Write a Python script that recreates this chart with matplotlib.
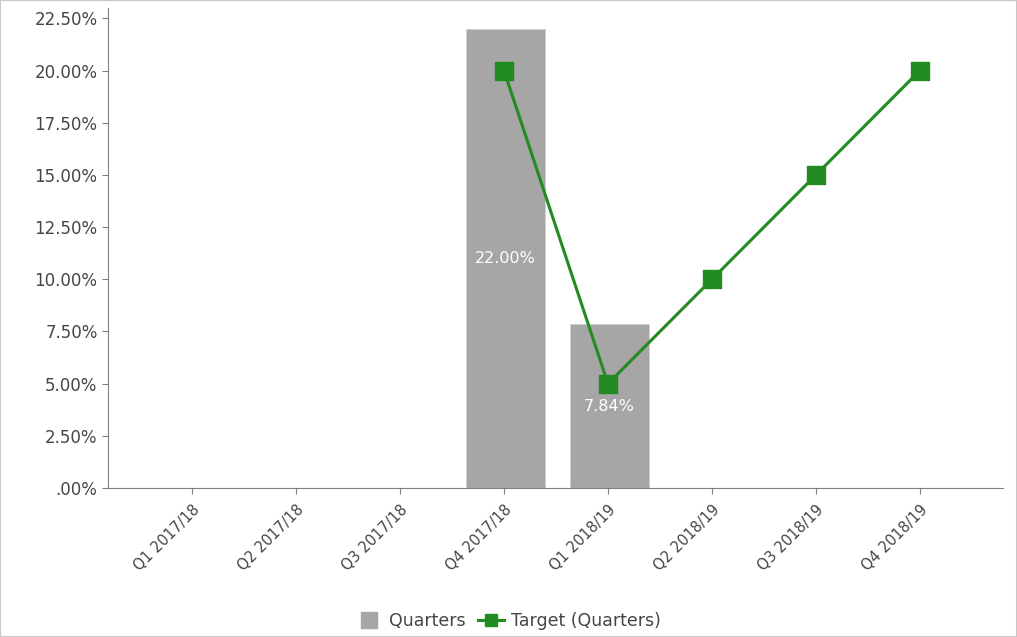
import matplotlib
matplotlib.use("Agg")
import matplotlib.pyplot as plt
import numpy as np
from matplotlib.ticker import FuncFormatter
from matplotlib.patches import Rectangle
from matplotlib.lines import Line2D

quarters = ["Q1 2017/18", "Q2 2017/18", "Q3 2017/18", "Q4 2017/18",
            "Q1 2018/19", "Q2 2018/19", "Q3 2018/19", "Q4 2018/19"]
actual = [np.nan, np.nan, np.nan, 22.00, 7.84, np.nan, np.nan, np.nan]
target = [np.nan, np.nan, np.nan, 20.0, 5.0, 10.0, 15.0, 20.0]

bar_color = "#a6a6a6"
line_color = "#228b22"
text_color = "#454545"


def pct_fmt(v, pos):
    s = f"{v:.2f}%"
    if s.startswith("0."):
        s = s[1:]
    return s


fig = plt.figure(figsize=(10.17, 6.37), dpi=100)
fig.patches.append(Rectangle((0, 0), 1, 1, transform=fig.transFigure,
                             fill=False, edgecolor="#c8c8c8", linewidth=1.5))
ax = fig.add_axes([0.1062, 0.2339, 0.88, 0.7535])

x = np.arange(len(quarters))
ax.bar(x + 0.015, actual, width=0.76, color=bar_color,
       edgecolor="#d0d0d0", linewidth=0.5, zorder=2)
ax.plot(x, target, color=line_color, linewidth=2.2, marker="s", markersize=13, zorder=3)

for xi, v in zip(x, actual):
    if not np.isnan(v):
        ax.text(xi + 0.015, v / 2, f"{v:.2f}%", color="white", ha="center",
                va="center", fontsize=11.5, zorder=4)

ax.set_xlim(-0.81, 7.8)
ax.set_ylim(0, 23.0)
ax.set_yticks(np.arange(0, 22.51, 2.5))
ax.yaxis.set_major_formatter(FuncFormatter(pct_fmt))
ax.set_xticks(x)
ax.set_xticklabels(quarters, rotation=45, ha="right", rotation_mode="anchor",
                   fontsize=10.5)
ax.tick_params(axis="y", labelsize=12, color="#808080", labelcolor=text_color, length=4)
ax.tick_params(axis="x", color="#808080", labelcolor=text_color, length=4, pad=6)

for side in ["top", "right"]:
    ax.spines[side].set_visible(False)
for side in ["left", "bottom"]:
    ax.spines[side].set_color("#808080")

legend_handles = [
    Line2D([], [], linestyle="none", marker="s", markersize=11,
           color=bar_color),
    Line2D([], [], color=line_color, linewidth=2.2, marker="s", markersize=9),
]
fig.legend(legend_handles, ["Quarters", "Target (Quarters)"],
           loc="lower center", bbox_to_anchor=(0.5, -0.013), ncol=2, frameon=False,
           fontsize=12.5, labelcolor=text_color, handlelength=1.5,
           columnspacing=0.7, handletextpad=0.4)

fig.savefig("out.png", dpi=100)
